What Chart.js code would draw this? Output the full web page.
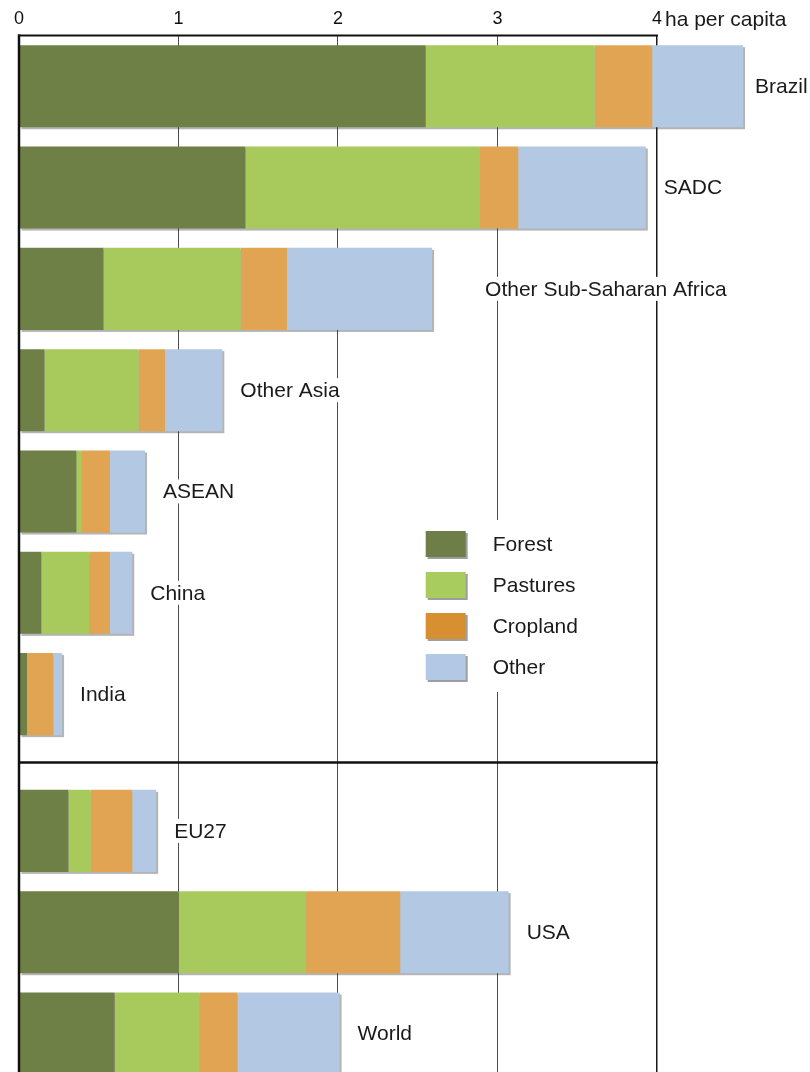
<!DOCTYPE html>
<html lang="en">
<head>
<meta charset="UTF-8" />
<title>Land use per capita</title>
<script src="https://cdn.jsdelivr.net/npm/chart.js@4.4.1/dist/chart.umd.min.js"></script>
<style>
  body { margin: 0; background: #fff; }
  canvas { display: block; }
</style>
</head>
<body>
<canvas id="chart" width="810" height="1072"></canvas>
<script>
// ha per capita
const regions  = ['Brazil', 'SADC', 'Other Sub-Saharan Africa', 'Other Asia', 'ASEAN', 'China', 'India', 'EU27', 'USA', 'World'];
const groupOf  = [0, 0, 0, 0, 0, 0, 0, 1, 1, 1];
const forest   = [2.55, 1.42, 0.53, 0.16, 0.36, 0.14, 0.05, 0.31, 1.00, 0.60];
const pastures = [1.06, 1.47, 0.86, 0.59, 0.03, 0.30, 0.00, 0.14, 0.80, 0.53];
const cropland = [0.36, 0.24, 0.29, 0.165, 0.18, 0.13, 0.165, 0.26, 0.59, 0.24];
const other    = [0.57, 0.80, 0.91, 0.36, 0.22, 0.14, 0.055, 0.15, 0.68, 0.64];
const xTicks   = [0, 1, 2, 3, 4];
const unitText = 'ha per capita';

const GROUP_GAP = 0.35;
const pos = regions.map((r, i) => i + groupOf[i] * GROUP_GAP);
const FONT = '"Liberation Sans", Arial, sans-serif';

const series = [
  { label: 'Forest',   data: forest,   color: '#6f8047', key: '#6d7e46' },
  { label: 'Pastures', data: pastures, color: '#a8ca5d', key: '#a8cd5e' },
  { label: 'Cropland', data: cropland, color: '#e0a453', key: '#d88f31' },
  { label: 'Other',    data: other,    color: '#b3c8e3', key: '#b3c8e4' }
];

const labelGap = { 'Brazil': 12, 'Other Sub-Saharan Africa': 53 };

function barEnds(chart, i) {
  let right = -Infinity, el0 = null;
  chart.data.datasets.forEach((d, di) => {
    const el = chart.getDatasetMeta(di).data[i];
    if (!el0) el0 = el;
    right = Math.max(right, el.x);
  });
  return { left: el0.base, right: right, y: el0.y, h: el0.height };
}

const framePlugin = {
  id: 'frame',
  beforeDatasetsDraw(chart) {
    const c = chart.ctx;
    c.save();
    c.fillStyle = 'rgba(40,40,40,0.35)';
    regions.forEach((r, i) => {
      const b = barEnds(chart, i);
      c.fillRect(b.left + 2, b.y - b.h / 2 + 2, b.right - b.left, b.h);
    });
    c.restore();
  },
  afterDatasetsDraw(chart) {
    const c = chart.ctx;
    const xs = chart.scales.x, ys = chart.scales.y, area = chart.chartArea;
    const x0 = xs.getPixelForValue(0), x4 = xs.getPixelForValue(4);
    c.save();
    c.strokeStyle = '#111';
    // left axis line
    c.lineWidth = 2.5;
    c.beginPath(); c.moveTo(x0, area.top - 1); c.lineTo(x0, area.bottom); c.stroke();
    // top border
    c.lineWidth = 2;
    c.beginPath(); c.moveTo(x0 - 1, area.top); c.lineTo(x4 + 1, area.top); c.stroke();
    // separator between the two groups
    const sepY = ys.getPixelForValue((pos[6] + pos[7]) / 2);
    c.lineWidth = 2.5;
    c.beginPath(); c.moveTo(x0, sepY); c.lineTo(x4 + 1, sepY); c.stroke();

    // region labels
    c.font = '21px ' + FONT;
    c.textBaseline = 'middle';
    regions.forEach((r, i) => {
      const b = barEnds(chart, i);
      const tx = b.right + (labelGap[r] || 18);
      const w = c.measureText(r).width;
      c.fillStyle = '#fff';
      c.fillRect(tx - 3, b.y - 12, w + 6, 24);
      c.fillStyle = '#1a1a1a';
      c.fillText(r, tx, b.y + 1);
    });

    // legend
    const lx = xs.getPixelForValue(2.55), ly = ys.getPixelForValue(4.39);
    c.fillStyle = '#fff';
    c.fillRect(lx - 6, ly - 11, 230, 172);
    series.forEach((s, k) => {
      const by = ly + k * 41;
      c.fillStyle = 'rgba(40,40,40,0.45)';
      c.fillRect(lx + 2, by + 2, 40, 26);
      c.fillStyle = s.key;
      c.fillRect(lx, by, 40, 26);
      c.fillStyle = '#1a1a1a';
      c.fillText(s.label, lx + 67, by + 14);
    });

    // unit next to the last tick
    c.textBaseline = 'alphabetic';
    c.fillText(unitText, x4 + 8, area.top - 10);
    c.restore();
  }
};

const ctx = document.getElementById('chart').getContext('2d');
new Chart(ctx, {
  type: 'bar',
  data: {
    datasets: series.map(s => ({
      label: s.label,
      data: s.data.map((v, i) => ({ x: v, y: pos[i] })),
      backgroundColor: s.color,
      borderWidth: 0,
      categoryPercentage: 0.9,
      barPercentage: 0.9
    }))
  },
  options: {
    indexAxis: 'y',
    responsive: false,
    animation: false,
    layout: { padding: { left: 19, right: 9.5, top: 2, bottom: 0 } },
    plugins: { legend: { display: false }, tooltip: { enabled: false } },
    scales: {
      x: {
        type: 'linear',
        position: 'top',
        min: 0,
        max: 4.9,
        stacked: true,
        afterBuildTicks: s => { s.ticks = xTicks.map(v => ({ value: v })); },
        border: { display: false },
        grid: {
          drawTicks: false,
          color: c => c.tick && c.tick.value === 4 ? '#1a1a1a' : (c.tick && c.tick.value === 0 ? 'rgba(0,0,0,0)' : '#4d4d4d'),
          lineWidth: c => c.tick && c.tick.value === 4 ? 1.5 : 1
        },
        ticks: {
          padding: 6,
          maxRotation: 0,
          color: '#111',
          font: { family: FONT, size: 18 }
        }
      },
      y: {
        type: 'linear',
        reverse: true,
        offset: false,
        min: -0.5,
        max: 9.73,
        stacked: true,
        display: false,
        afterBuildTicks: s => { s.ticks = pos.map(v => ({ value: v })); }
      }
    }
  },
  plugins: [framePlugin]
});
</script>
</body>
</html>
